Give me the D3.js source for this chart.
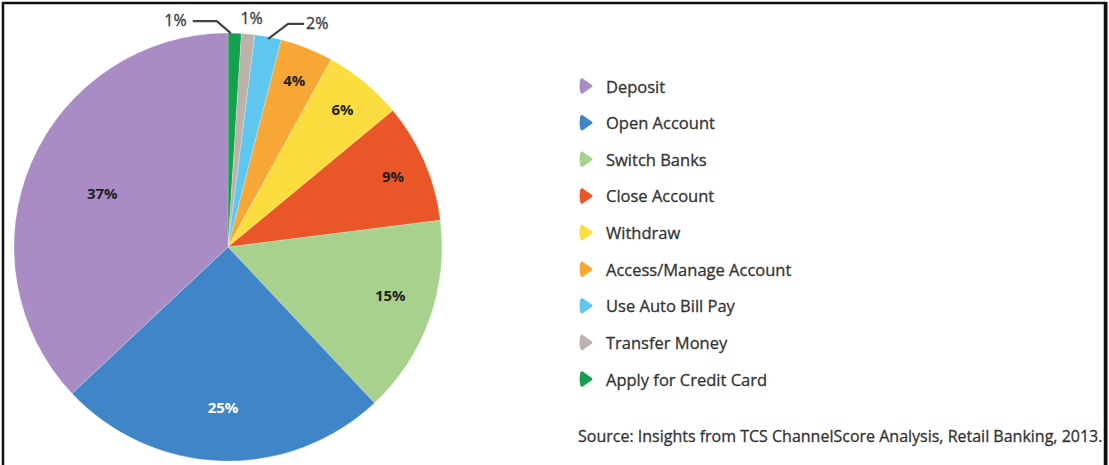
<!DOCTYPE html>
<html>
<head>
<meta charset="utf-8">
<script src="https://cdn.jsdelivr.net/npm/d3@7/dist/d3.min.js"></script>
<style>
  html, body { margin: 0; padding: 0; background: #fff; }
  svg { display: block; }
</style>
</head>
<body>
<svg id="chart" width="1109" height="465"></svg>
<script>
// Channel usage share by task, clockwise from 12 o'clock
const categories = ["Apply for Credit Card", "Transfer Money", "Use Auto Bill Pay",
  "Access/Manage Account", "Withdraw", "Close Account", "Switch Banks",
  "Open Account", "Deposit"];
const shares = [1, 1, 2, 4, 6, 9, 15, 25, 37];
const sliceColors = ["#13a04f", "#bdb2aa", "#5ec6ef", "#f6a735", "#fbdd40",
  "#e95628", "#a9d18e", "#3f85c7", "#aa8cc5"];
// Legend reads top to bottom from the largest share
const legendOrder = ["Deposit", "Open Account", "Switch Banks", "Close Account",
  "Withdraw", "Access/Manage Account", "Use Auto Bill Pay", "Transfer Money",
  "Apply for Credit Card"];
const sourceNote = "Source: Insights from TCS ChannelScore Analysis, Retail Banking, 2013.";

const svg = d3.select("#chart");
const W = 1109, H = 465;
const font = "'Open Sans', 'Noto Sans', sans-serif";

// frame (bottom edge runs off the canvas)
svg.append("path")
  .attr("d", `M3,${H + 5} L3,3 L1105,3 L1105,${H + 5}`)
  .attr("fill", "none").attr("stroke", "#111").attr("stroke-width", 2.5);
svg.append("line").attr("x1", 1106.5).attr("x2", 1106.5).attr("y1", 2).attr("y2", H)
  .attr("stroke", "#111").attr("stroke-width", 2);

const cx = 228, cy = 247, R = 214;
const color = d3.scaleOrdinal().domain(categories).range(sliceColors);

const data = categories.map((c, i) => ({ name: c, value: shares[i] }));
const pie = d3.pie().value(d => d.value).sort(null);
const arcs = pie(data);
const arc = d3.arc().innerRadius(0).outerRadius(R);

const g = svg.append("g").attr("transform", `translate(${cx},${cy})`);
g.selectAll("path.slice").data(arcs).join("path")
  .attr("class", "slice")
  .attr("d", arc)
  .attr("fill", d => color(d.data.name))
  .attr("stroke", "rgba(255,255,255,0.35)")
  .attr("stroke-width", 0.6);

const polar = (a, r) => [Math.sin(a) * r, -Math.cos(a) * r];
const mid = d => (d.startAngle + d.endAngle) / 2;

// labels inside the larger slices
const insideRadius = { "Deposit": 0.64, "Open Account": 0.75, "Switch Banks": 0.79 };
arcs.filter(d => d.data.value >= 4).forEach(d => {
  const [x, y] = polar(mid(d) - (d.data.name === "Switch Banks" ? 0.06 : 0), R * (insideRadius[d.data.name] || 0.84));
  g.append("text")
    .attr("x", x).attr("y", y)
    .attr("text-anchor", "middle").attr("dominant-baseline", "central")
    .attr("font-family", font).attr("font-size", 15).attr("font-weight", 700)
    .attr("fill", d.data.name === "Open Account" ? "#ffffff" : "#231f20")
    .text(d.data.value + "%");
});

// small slices labelled outside the rim
const outer = arcs.filter(d => d.data.value < 4);
outer.forEach(d => {
  const a = mid(d);
  const [ax, ay] = polar(a, R);
  const style = t => t.attr("font-family", font).attr("font-size", 16)
    .attr("fill", "#3a3a3a").attr("stroke", "#3a3a3a").attr("stroke-width", 0.3)
    .attr("dominant-baseline", "central");
  if (d.data.name === "Transfer Money") {
    const [lx, ly] = polar(a, R + 16);
    style(g.append("text").attr("x", lx + 2).attr("y", ly).attr("text-anchor", "middle"))
      .text(d.data.value + "%");
  } else if (d.data.name === "Apply for Credit Card") {
    const ey = ay - 12;
    g.append("path")
      .attr("d", `M${ax - 4},${ay} L${ax - 18},${ey} L${ax - 42},${ey}`)
      .attr("fill", "none").attr("stroke", "#444").attr("stroke-width", 2.2);
    style(g.append("text").attr("x", ax - 48).attr("y", ey - 1).attr("text-anchor", "end"))
      .text(d.data.value + "%");
  } else {
    const ey = ay - 13;
    g.append("path")
      .attr("d", `M${ax},${ay + 2} L${ax + 20},${ey} L${ax + 36},${ey}`)
      .attr("fill", "none").attr("stroke", "#444").attr("stroke-width", 2.2);
    style(g.append("text").attr("x", ax + 38).attr("y", ey - 1).attr("text-anchor", "start"))
      .text(d.data.value + "%");
  }
});

// legend
const ly = d3.scalePoint().domain(legendOrder).range([86, 379]);
const legend = svg.append("g");
const rows = legend.selectAll("g").data(legendOrder).join("g")
  .attr("transform", d => `translate(586,${ly(d)})`);
rows.append("path")
  .attr("d", "M-6,-5 Q-6,-7 -4,-8 L6,-1 Q7,0 6,1 L-4,8 Q-6,7 -6,5 Q-7,0 -6,-5 Z")
  .attr("fill", d => color(d));
rows.append("text")
  .attr("x", 20).attr("y", 0).attr("dominant-baseline", "central")
  .attr("font-family", font).attr("font-size", 16.5)
  .attr("fill", "#333").attr("stroke", "#333").attr("stroke-width", 0.3)
  .text(d => d);

svg.append("text")
  .attr("x", 578).attr("y", 436).attr("dominant-baseline", "central")
  .attr("font-family", font).attr("font-size", 16)
  .attr("fill", "#333").attr("stroke", "#333").attr("stroke-width", 0.3)
  .text(sourceNote);
</script>
</body>
</html>
